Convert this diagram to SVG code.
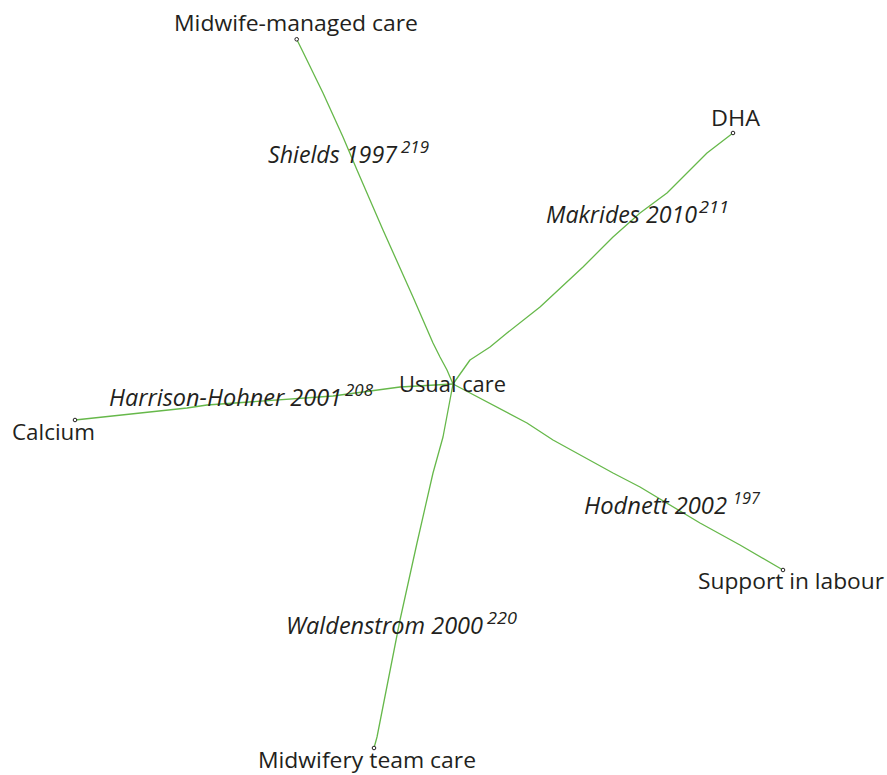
<svg xmlns="http://www.w3.org/2000/svg" width="887" height="775" viewBox="0 0 887 775">
<style>
.edge{fill:none;stroke:#66b84a;stroke-width:1.3;stroke-linejoin:round}
.lbl{font-family:"Open Sans","Noto Sans","Liberation Sans",sans-serif;font-size:22.5px;fill:#231f20}
.ref{font-family:"Open Sans","Noto Sans","Liberation Sans",sans-serif;font-size:23.5px;font-style:italic;fill:#231f20}
.sup{font-family:"Open Sans","Noto Sans","Liberation Sans",sans-serif;font-size:16px;font-style:italic;fill:#231f20}
.dot{fill:#fff;stroke:#231f20;stroke-width:1}
</style>
<rect width="887" height="775" fill="#fff"/>
<g id="connectors">
<polyline class="edge" points="296.7,39.3 303,52 323,93 343,137 357,170 383,230 413,297 433,343 440,357 447,370 453,384"/>
<polyline class="edge" points="733,133 707,153 667,193 640,213 613,237 583,267 540,307 507,333 490,347 470,360 453,384"/>
<polyline class="edge" points="75,420 187,408 207,405 333,396 400,387 453,384"/>
<polyline class="edge" points="453,384 527,423 553,440 613,473 640,487 700,523 740,545 783,570"/>
<polyline class="edge" points="453,384 443,437 433,473 417,543 400,620 377,737 374,748"/>
</g>
<g id="ref-shields"><text class="ref" x="268" y="163" textLength="129" lengthAdjust="spacingAndGlyphs">Shields 1997</text><text class="sup" x="401" y="153" textLength="28" lengthAdjust="spacingAndGlyphs">219</text></g>
<g id="ref-makrides"><text class="ref" x="546" y="223" textLength="151" lengthAdjust="spacingAndGlyphs">Makrides 2010</text><text class="sup" x="699" y="213" textLength="30" lengthAdjust="spacingAndGlyphs">211</text></g>
<g id="ref-harrison"><text class="ref" x="109" y="406" textLength="233" lengthAdjust="spacingAndGlyphs">Harrison-Hohner 2001</text><text class="sup" x="345" y="396" textLength="28" lengthAdjust="spacingAndGlyphs">208</text></g>
<g id="ref-hodnett"><text class="ref" x="584" y="514" textLength="143" lengthAdjust="spacingAndGlyphs">Hodnett 2002</text><text class="sup" x="733" y="504" textLength="27" lengthAdjust="spacingAndGlyphs">197</text></g>
<g id="ref-waldenstrom"><text class="ref" x="286" y="634" textLength="197" lengthAdjust="spacingAndGlyphs">Waldenstrom 2000</text><text class="sup" x="487" y="624" textLength="30" lengthAdjust="spacingAndGlyphs">220</text></g>
<g id="node-usual"><text class="lbl" x="399" y="392" textLength="107" lengthAdjust="spacingAndGlyphs">Usual care</text></g>
<g id="node-midwife-managed"><circle class="dot" cx="296.7" cy="39.3" r="1.8"/><text class="lbl" x="174" y="31" textLength="244" lengthAdjust="spacingAndGlyphs">Midwife-managed care</text></g>
<g id="node-dha"><circle class="dot" cx="733" cy="133" r="1.8"/><text class="lbl" x="711" y="126" textLength="49" lengthAdjust="spacingAndGlyphs">DHA</text></g>
<g id="node-calcium"><circle class="dot" cx="75" cy="420" r="1.8"/><text class="lbl" x="12" y="440" textLength="83" lengthAdjust="spacingAndGlyphs">Calcium</text></g>
<g id="node-support"><circle class="dot" cx="783" cy="570" r="1.8"/><text class="lbl" x="698" y="589" textLength="186" lengthAdjust="spacingAndGlyphs">Support in labour</text></g>
<g id="node-midwifery-team"><circle class="dot" cx="374" cy="748" r="1.8"/><text class="lbl" x="258" y="768" textLength="218" lengthAdjust="spacingAndGlyphs">Midwifery team care</text></g>
</svg>
